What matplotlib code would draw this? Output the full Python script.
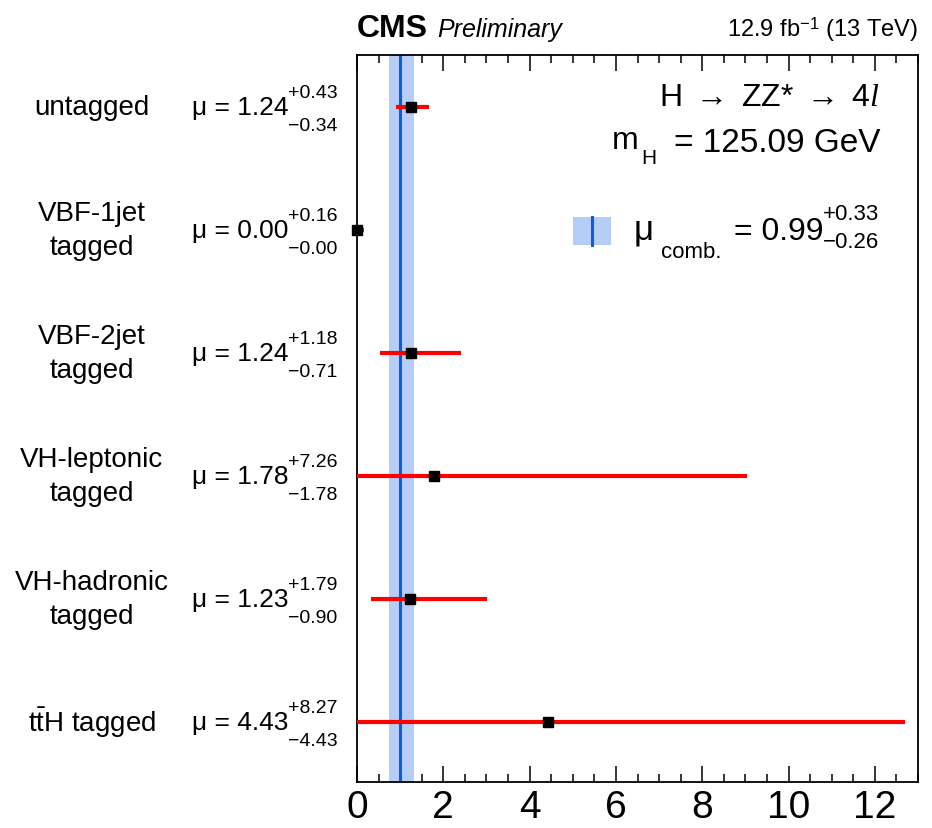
import matplotlib
matplotlib.use('Agg')
from matplotlib import pyplot as plt
from matplotlib.patches import Rectangle
from matplotlib.ticker import MultipleLocator
import matplotlib.transforms as mtransforms

plt.rcParams['font.family'] = ['Liberation Sans', 'DejaVu Sans']
plt.rcParams['mathtext.fontset'] = 'custom'
plt.rcParams['mathtext.rm'] = 'Liberation Sans'
plt.rcParams['mathtext.it'] = 'Liberation Serif:italic'

# category results (top to bottom)
categories = ['untagged', 'VBF-1jet\ntagged', 'VBF-2jet\ntagged',
              'VH-leptonic\ntagged', 'VH-hadronic\ntagged', r't$\bar{\mathrm{t}}$H tagged']
mu = [1.24, 0.00, 1.24, 1.78, 1.23, 4.43]
err_up = [0.43, 0.16, 1.18, 7.26, 1.79, 8.27]
err_dn = [0.34, 0.00, 0.71, 1.78, 0.90, 4.43]
mu_text = ['1.24', '0.00', '1.24', '1.78', '1.23', '4.43']
up_text = ['+0.43', '+0.16', '+1.18', '+7.26', '+1.79', '+8.27']
dn_text = ['\u22120.34', '\u22120.00', '\u22120.71', '\u22121.78', '\u22120.90', '\u22124.43']

mu_comb = 0.99
comb_up = 0.33
comb_dn = 0.26

W, H = 932, 829

def fx(px):
    return px / W

def fy(py):
    return 1 - py / H

fig = plt.figure(figsize=(9.32, 8.29), dpi=100)
ax = fig.add_axes([fx(357), fy(783), fx(918) - fx(357), fy(56) - fy(783)])

rows = list(range(len(categories)))

# combined band and line
ax.axvspan(mu_comb - comb_dn, mu_comb + comb_up, color='#b5cdf7', lw=0, zorder=1)
ax.axvline(mu_comb, color='#0b5ed7', lw=2.2, zorder=2)

# per-category error bars and points
for i in rows:
    ax.plot([mu[i] - err_dn[i], mu[i] + err_up[i]], [i, i], color='#ff0000', lw=3, zorder=3,
            solid_capstyle='butt')
ax.plot(mu, rows, 's', color='black', ms=7, zorder=4, clip_on=False)

ax.set_xlim(0, 13)
ax.set_ylim(5.49, -0.42)
ax.xaxis.set_major_locator(MultipleLocator(2))
ax.xaxis.set_minor_locator(MultipleLocator(0.5))
ax.tick_params(axis='x', which='both', direction='in', top=True, bottom=True, width=1.1)
ax.tick_params(axis='x', which='major', length=11.5, labelsize=28, pad=5)
ax.tick_params(axis='x', which='minor', length=5.5)
ax.set_yticks([])
for s in ax.spines.values():
    s.set_linewidth(1.3)

# labels on the left
tr = mtransforms.blended_transform_factory(fig.transFigure, ax.transData)
for i in rows:
    ax.text(fx(92), i, categories[i], transform=tr, ha='center', va='center',
            fontsize=20, linespacing=1.4)
    ax.text(fx(288), i, '\u03bc = ' + mu_text[i], transform=tr, ha='right', va='center',
            fontsize=19)
    ax.text(fx(288), i - 0.115, up_text[i], transform=tr, ha='left', va='center', fontsize=14)
    ax.text(fx(288), i + 0.155, dn_text[i], transform=tr, ha='left', va='center', fontsize=14)

# header
fig.text(fx(357), fy(37), 'CMS', fontsize=23, fontweight='bold', ha='left', va='baseline')
fig.text(fx(437), fy(37), 'Preliminary', fontsize=18, style='italic', ha='left', va='baseline')
fig.text(fx(918), fy(37), r'12.9 fb$^{\mathregular{-1}}$ (13 TeV)', fontsize=17,
         ha='right', va='baseline')

# process text
fig.text(fx(880), fy(98), r'H $\rightarrow$ ZZ* $\rightarrow$ 4$\mathit{l}$', fontsize=23,
         ha='right', va='center')
fig.text(fx(880), fy(143), '= 125.09 GeV', fontsize=24, ha='right', va='center')
fig.text(fx(612), fy(141), 'm', fontsize=23, ha='left', va='center')
fig.text(fx(641), fy(158), 'H', fontsize=15, ha='left', va='center')

# legend for combined result
ax.add_patch(Rectangle((fx(573), fy(246)), fx(611) - fx(573), fy(218) - fy(246),
                       transform=fig.transFigure, color='#b5cdf7', lw=0, zorder=5))
fig.add_artist(plt.Line2D([fx(592), fx(592)], [fy(246), fy(218)], color='#0b5ed7', lw=2.2,
                          transform=fig.transFigure))
fig.text(fx(634), fy(230), '\u03bc', fontsize=25, ha='left', va='center')
fig.text(fx(661), fy(253), 'comb.', fontsize=16, ha='left', va='center')
fig.text(fx(823), fy(232), '= %.2f' % mu_comb, fontsize=23, ha='right', va='center')
fig.text(fx(823), fy(215), '+%.2f' % comb_up, fontsize=16, ha='left', va='center')
fig.text(fx(823), fy(243), '\u2212%.2f' % comb_dn, fontsize=16, ha='left', va='center')

fig.savefig('out.png', dpi=100)
